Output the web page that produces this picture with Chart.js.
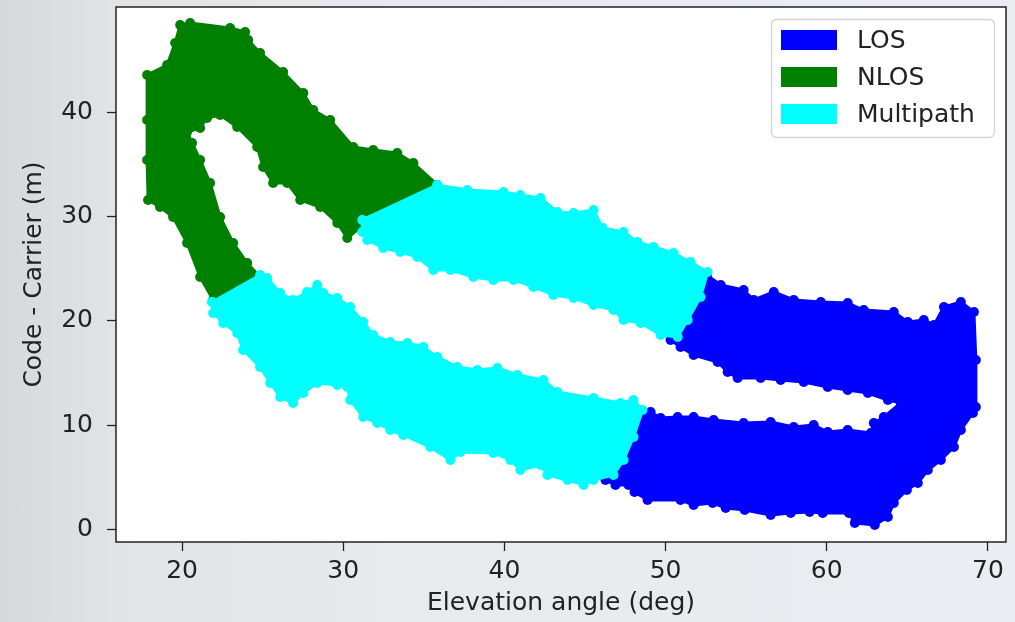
<!DOCTYPE html>
<html>
<head>
<meta charset="utf-8">
<script src="https://cdn.jsdelivr.net/npm/chart.js@4/dist/chart.umd.min.js"></script>
<style>
  html, body { margin:0; padding:0; }
  body {
    width:1015px; height:622px; overflow:hidden;
    background: linear-gradient(90deg, #d7d8d9 0%, #e2e4e6 12%, #e8eaed 40%, #eaedf1 100%);
  }
  canvas { display:block; }
</style>
</head>
<body>
<canvas id="chart" width="1015" height="622"></canvas>
<script>
const xTicks = [20, 30, 40, 50, 60, 70];
const yTicks = [0, 10, 20, 30, 40];

const seriesNames  = ['LOS', 'NLOS', 'Multipath'];
const seriesColors = ['#0000ff', '#008000', '#00ffff'];

// outline of each coloured band as [elevation, code-carrier]
const nlosOutline = [
  [21.93,22.01],[21.12,24.21],[20.31,27.47],[19.44,29.95],[18.63,30.91],[17.89,31.58],
  [17.83,35.41],[17.83,39.24],[17.83,43.54],[19.07,44.50],[19.57,46.61],[19.88,48.33],
  [20.50,48.52],[22.98,48.04],[23.91,47.66],[24.10,46.89],[24.84,45.65],[26.27,43.83],
  [27.52,41.82],[28.14,40.19],[29.19,39.24],[30.62,36.65],[31.86,36.37],[33.35,36.08],
  [34.35,35.12],[35.84,33.02],[31.18,29.09],[30.25,27.94],[29.63,29.38],[28.57,30.91],
  [27.33,31.58],[26.52,33.21],[25.65,33.21],[25.03,34.74],[24.66,36.65],[23.42,38.57],
  [22.36,39.72],[21.55,39.43],[21.12,38.47],[20.31,38.09],[20.62,37.04],[21.12,35.41],
  [21.74,33.21],[22.36,29.95],[23.17,27.47],[24.04,25.55],[24.84,24.21]
];

const multipathUpper = [
  [35.84,33.02],[37.70,32.54],[39.94,32.35],[40.99,32.06],[42.24,31.77],[43.29,30.43],
  [44.29,30.34],[45.53,30.62],[46.09,28.90],[47.39,28.52],[48.26,27.56],[49.25,27.08],
  [50.50,26.51],[51.55,25.65],[52.61,24.69],[52.17,22.30],[51.37,20.10],[50.75,18.47],
  [49.69,18.66],[48.45,19.81],[47.39,20.10],[46.77,21.05],[45.53,21.53],[44.29,22.20],
  [43.04,22.49],[41.80,23.26],[40.56,23.93],[39.32,23.93],[38.07,24.21],[36.65,24.88],
  [35.59,24.88],[34.60,26.13],[33.54,26.60],[32.48,26.99],[31.49,27.75],[31.18,28.52],
  [31.18,29.67]
];

const multipathLower = [
  [21.86,21.82],[24.84,24.40],[25.28,24.12],[26.09,22.68],[26.89,22.01],[27.76,22.78],
  [28.39,23.45],[28.76,22.68],[29.63,22.20],[30.43,21.34],[31.24,19.91],[31.86,18.66],
  [32.92,17.99],[33.98,17.90],[34.97,17.51],[35.84,16.56],[37.08,15.60],[38.32,15.31],
  [39.57,15.50],[40.81,14.83],[42.42,14.36],[43.29,13.21],[45.53,12.63],[47.20,12.15],
  [48.01,12.44],[48.57,11.48],[48.01,8.90],[47.39,6.70],[46.77,5.26],[45.53,4.79],
  [44.91,4.31],[43.91,4.79],[42.67,5.26],[42.24,6.22],[40.99,5.74],[40.37,6.70],
  [39.32,7.37],[37.27,7.46],[36.65,6.70],[35.40,7.94],[33.73,9.09],[32.92,9.57],
  [32.11,10.24],[31.24,10.81],[30.43,12.44],[30.25,13.69],[29.63,13.88],[28.39,14.07],
  [27.52,13.11],[26.89,12.15],[26.09,12.73],[25.47,14.07],[24.84,15.60],[23.79,17.23],
  [23.42,18.85],[22.55,19.81],[21.93,20.77]
];

const losOutline = [
  [52.55,24.40],[53.42,23.45],[54.84,22.97],[55.47,22.01],[56.71,22.78],[57.95,22.01],
  [59.63,21.82],[61.30,21.72],[62.30,21.05],[64.16,20.86],[65.03,19.91],[66.02,20.10],
  [66.65,19.62],[67.27,21.34],[68.32,21.82],[69.13,20.86],[69.25,16.27],[69.25,11.77],
  [69.07,11.20],[68.32,9.57],[67.89,7.94],[67.08,6.70],[66.27,5.74],[65.65,4.50],
  [64.97,3.83],[64.16,2.58],[63.79,1.24],[62.98,0.48],[61.74,0.67],[61.37,1.63],
  [59.75,1.63],[58.94,1.72],[57.76,1.63],[56.52,1.44],[54.91,1.91],[53.73,2.11],
  [52.92,2.58],[51.74,2.39],[50.93,2.87],[48.88,2.87],[48.07,3.64],[47.70,4.31],
  [46.89,4.31],[46.27,4.79],[47.20,6.51],[48.32,11.29],[49.07,11.29],[49.69,10.72],
  [50.75,10.81],[51.74,10.81],[52.98,10.53],[54.84,10.24],[56.52,10.34],[57.95,9.86],
  [59.19,10.05],[60.06,9.38],[61.30,9.57],[62.73,9.28],[62.92,10.24],[63.54,10.81],
  [64.60,12.15],[63.79,12.44],[62.55,13.11],[61.30,13.40],[60.06,13.69],[58.57,14.16],
  [57.14,14.36],[55.90,14.55],[54.47,14.55],[53.85,15.12],[53.23,16.08],[51.74,16.75],
  [50.93,17.51],[50.31,18.18],[51.06,20.10],[51.99,23.45]
];

const FONT = 'DejaVu Sans';
const INK = '#222';

function band(label, color, pts){
  const data = pts.concat([pts[0]]).map(p => ({ x:p[0], y:p[1] }));
  return {
    label, data, fill:'shape', tension:0,
    backgroundColor:color, borderColor:color, borderWidth:3, borderJoinStyle:'round',
    pointRadius:5, pointHoverRadius:5, pointBorderWidth:0,
    pointBackgroundColor:color
  };
}

// first dataset is painted last, so Multipath sits on top like in the picture
const datasets = [
  band(seriesNames[2], seriesColors[2], multipathUpper),
  band(seriesNames[2], seriesColors[2], multipathLower),
  band(seriesNames[1], seriesColors[1], nlosOutline),
  band(seriesNames[0], seriesColors[0], losOutline)
];

const frameAndLegend = {
  id:'frameAndLegend',
  beforeDraw(chart){
    const a = chart.chartArea, ctx = chart.ctx;
    ctx.save();
    ctx.fillStyle = '#fff';
    ctx.fillRect(a.left, a.top, a.right - a.left, a.bottom - a.top);
    ctx.restore();
  },
  afterDraw(chart){
    const a = chart.chartArea, ctx = chart.ctx;
    ctx.save();
    ctx.strokeStyle = INK;
    ctx.lineWidth = 1.5;
    ctx.strokeRect(a.left, a.top, a.right - a.left, a.bottom - a.top);

    // legend box, matplotlib style
    const bx = 771, by = 19, bw = 223, bh = 118;
    ctx.beginPath();
    ctx.roundRect(bx + 0.5, by + 0.5, bw, bh, 5);
    ctx.fillStyle = 'rgba(255,255,255,0.85)';
    ctx.fill();
    ctx.strokeStyle = '#d4d4d4';
    ctx.lineWidth = 1.3;
    ctx.stroke();

    ctx.font = `25px "${FONT}"`;
    ctx.textBaseline = 'middle';
    ctx.textAlign = 'left';
    seriesNames.forEach((name, i) => {
      const y = by + 11 + i * 37;
      ctx.fillStyle = seriesColors[i];
      ctx.fillRect(bx + 10, y, 56, 20);
      ctx.fillStyle = INK;
      ctx.fillText(name, bx + 86, y + 11);
    });
    ctx.restore();
  }
};

const tickFont = { family: FONT, size: 25 };

new Chart(document.getElementById('chart'), {
  type:'line',
  data:{ datasets },
  options:{
    responsive:false,
    animation:false,
    events:[],
    layout:{ padding:{ top:7, right:9, bottom:0, left:0 } },
    plugins:{ legend:{ display:false }, tooltip:{ enabled:false } },
    scales:{
      x:{
        type:'linear',
        min:15.9, max:71.12,
        afterBuildTicks: s => { s.ticks = xTicks.map(v => ({ value:v })); },
        afterFit: s => { s.height = 80; s.paddingLeft = 0; s.paddingRight = 0; },
        grid:{ drawOnChartArea:false, tickLength:9, color:INK, tickWidth:1.3 },
        border:{ display:false },
        ticks:{ font:tickFont, color:INK, padding:5, maxRotation:0, autoSkip:false },
        title:{ display:true, text:'Elevation angle (deg)', font:tickFont, color:INK,
                padding:{ top:4, bottom:4 } }
      },
      y:{
        type:'linear',
        min:-1.15, max:50.05,
        afterBuildTicks: s => { s.ticks = yTicks.map(v => ({ value:v })); },
        afterFit: s => { s.width = 116; s.paddingTop = 0; s.paddingBottom = 0; },
        grid:{ drawOnChartArea:false, tickLength:9, color:INK, tickWidth:1.3 },
        border:{ display:false },
        ticks:{ font:tickFont, color:INK, padding:14, autoSkip:false },
        title:{ display:true, text:'Code - Carrier (m)', font:tickFont, color:INK,
                padding:{ top:19, bottom:19 } }
      }
    }
  },
  plugins:[frameAndLegend]
});
</script>
</body>
</html>
